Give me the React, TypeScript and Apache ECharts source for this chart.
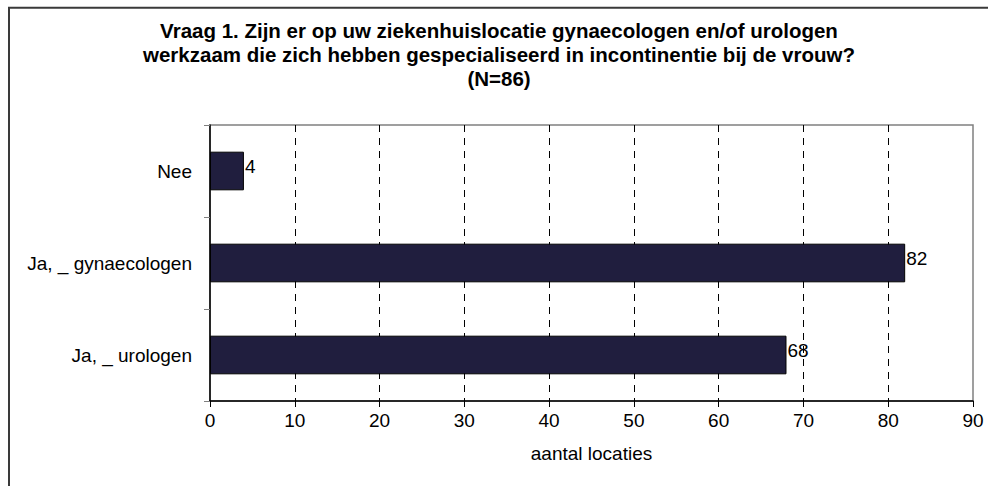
import React, { useEffect, useRef } from "react";
import * as echarts from "echarts";

const titleLines = [
  "Vraag 1. Zijn er op uw ziekenhuislocatie gynaecologen en/of urologen",
  "werkzaam die zich hebben gespecialiseerd in incontinentie bij de vrouw?",
  "(N=86)",
];
const categories = ["Nee", "Ja, _ gynaecologen", "Ja, _ urologen"];
const values = [4, 82, 68];
const xAxisName = "aantal locaties";
const xMin = 0;
const xMax = 90;
const xInterval = 10;

export default function App() {
  const ref = useRef<HTMLDivElement>(null);
  useEffect(() => {
    document.body.style.margin = "0";
    const chart = echarts.init(ref.current!, undefined, { renderer: "svg" });
    const font = "'Liberation Sans', Arial, sans-serif";
    chart.setOption({
      animation: false,
      backgroundColor: "#ffffff",
      graphic: [
        {
          type: "rect",
          shape: { x: 9, y: 7.7, width: 1200, height: 1200 },
          style: { fill: "none", stroke: "#3a3a3a", lineWidth: 2 },
          silent: true,
        },
        {
          type: "text",
          x: 499,
          y: 18,
          style: {
            text: titleLines.join("\n"),
            fontFamily: font,
            fontSize: 20.5,
            fontWeight: "bold",
            lineHeight: 24,
            fill: "#000",
            align: "center",
            verticalAlign: "top",
          },
        },
      ],
      grid: {
        left: 210,
        top: 125,
        right: 15,
        bottom: 85,
        show: true,
        borderColor: "#808080",
        borderWidth: 1.5,
        backgroundColor: "transparent",
      },
      xAxis: {
        type: "value",
        min: xMin,
        max: xMax,
        interval: xInterval,
        name: xAxisName,
        nameLocation: "middle",
        nameGap: 43,
        nameTextStyle: { fontFamily: font, fontSize: 19, color: "#000" },
        axisLine: { show: true, lineStyle: { color: "#000", width: 1.5 } },
        axisTick: { show: true, length: 6, lineStyle: { color: "#000" } },
        axisLabel: { fontFamily: font, fontSize: 19, color: "#000", margin: 10 },
        splitLine: {
          show: true,
          showMinLine: false,
          showMaxLine: false,
          lineStyle: { color: "#000", type: [7, 6], width: 1 },
        },
      },
      yAxis: {
        type: "category",
        data: categories,
        inverse: true,
        axisLine: { show: true, lineStyle: { color: "#000", width: 1.5 } },
        axisTick: { show: true, length: 6, lineStyle: { color: "#808080" } },
        axisLabel: {
          fontFamily: font,
          fontSize: 19,
          color: "#000",
          margin: 18,
          padding: [0, 0, 10, 0],
        },
        splitLine: { show: false },
      },
      series: [
        {
          type: "bar",
          data: values,
          barCategoryGap: "58%",
          itemStyle: { color: "#201e3e", borderColor: "#000", borderWidth: 1 },
          label: {
            show: true,
            position: "right",
            distance: 1,
            offset: [0, -5],
            fontFamily: font,
            fontSize: 19,
            color: "#000",
          },
        },
      ],
    });
    return () => chart.dispose();
  }, []);
  return <div ref={ref} style={{ width: 988, height: 486 }} />;
}
